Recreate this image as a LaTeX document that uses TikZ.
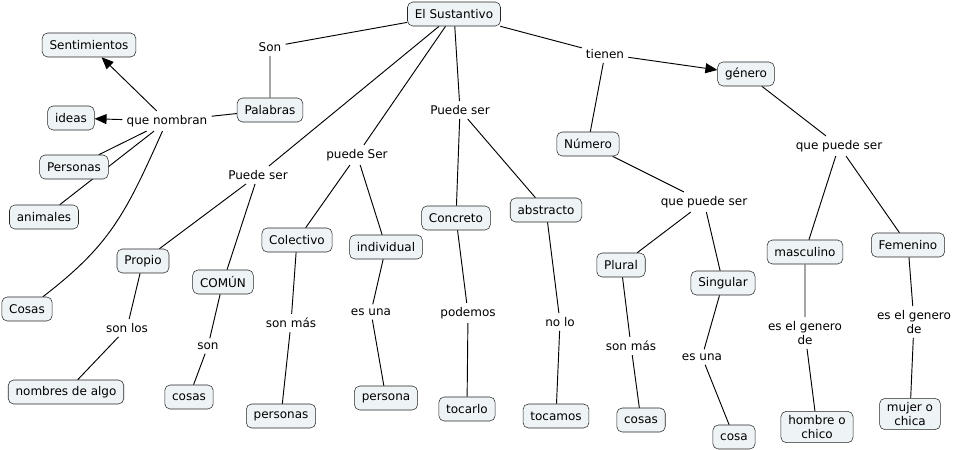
\documentclass[tikz,border=0pt]{standalone}
\usepackage{fontspec}
\setmainfont{DejaVu Sans}
\usetikzlibrary{arrows.meta}
\definecolor{boxfill}{HTML}{EEF3F6}
\pgfdeclarelayer{back}
\pgfsetlayers{back,main}

\begin{document}
\begin{tikzpicture}[x=0.75pt,y=-0.75pt,
  concept/.style={draw=black!85,fill=boxfill,rounded corners=4pt,inner xsep=5.5pt,
    inner ysep=3pt,minimum height=18pt,align=center,font=\fontsize{9}{10.5}\selectfont},
  link/.style={inner sep=3pt,align=center,font=\fontsize{9}{10.5}\selectfont},
  conn/.style={line width=0.7pt},
  arr/.style={conn,-{Triangle[length=9pt,width=7.5pt]}}]
  \useasboundingbox (0,0) rectangle (958,450);
  % concepts
  \node[concept] (es) at (454,14) {El Sustantivo};
  \node[concept] (sent) at (89,45) {Sentimientos};
  \node[concept] (pal) at (270,110) {Palabras};
  \node[concept] (ideas) at (71,118) {ideas};
  \node[concept] (pers) at (74,167) {Personas};
  \node[concept] (anim) at (44,217) {animales};
  \node[concept] (cosas1) at (27,309) {Cosas};
  \node[concept] (gen) at (746,74) {género};
  \node[concept] (num) at (588,144) {Número};
  \node[concept] (prop) at (143,261) {Propio};
  \node[concept] (comun) at (223,282) {COMÚN};
  \node[concept] (colec) at (297,240) {Colectivo};
  \node[concept] (indiv) at (386,247) {individual};
  \node[concept] (concr) at (456,218) {Concreto};
  \node[concept] (abst) at (546,210) {abstracto};
  \node[concept] (plur) at (621,265) {Plural};
  \node[concept] (sing) at (723,283) {Singular};
  \node[concept] (masc) at (805,252) {masculino};
  \node[concept] (fem) at (908,245) {Femenino};
  \node[concept] (algo) at (66,392) {nombres de algo};
  \node[concept] (cosas2) at (189,397) {cosas};
  \node[concept] (personas) at (281,416) {personas};
  \node[concept] (persona) at (386,398) {persona};
  \node[concept] (tocarlo) at (467,409) {tocarlo};
  \node[concept] (tocamos) at (556,416) {tocamos};
  \node[concept] (cosas3) at (641,420) {cosas};
  \node[concept] (cosa) at (734,437) {cosa};
  \node[concept] (hombre) at (817,427) {hombre o\\chico};
  \node[concept] (mujer) at (910,414) {mujer o\\chica};
  % linking phrases
  \node[link] (son) at (270,47) {Son};
  \node[link] (nombran) at (167,121) {que nombran};
  \node[link] (pser1) at (258,175) {Puede ser};
  \node[link] (pser2) at (357,155) {puede Ser};
  \node[link] (pser3) at (460,110) {Puede ser};
  \node[link] (tienen) at (605,54) {tienen};
  \node[link] (qps1) at (704,202) {que puede ser};
  \node[link] (qps2) at (839,146) {que puede ser};
  \node[link] (sonlos) at (127,328) {son los};
  \node[link] (sonc) at (208,346) {son};
  \node[link] (sonmas1) at (291,323) {son más};
  \node[link] (esuna1) at (371,312) {es una};
  \node[link] (podemos) at (468,313) {podemos};
  \node[link] (nolo) at (560,322) {no lo};
  \node[link] (sonmas2) at (631,346) {son más};
  \node[link] (esuna2) at (702,357) {es una};
  \node[link] (egd1) at (805,333) {es el genero\\de};
  \node[link] (egd2) at (914,322) {es el genero\\de};
  % connectors
  \begin{pgfonlayer}{back}
    \draw[conn] (es) -- (son) -- (pal) -- (nombran);
    \draw[arr] (nombran) -- (sent);
    \draw[arr] (nombran) -- (ideas);
    \draw[conn] (nombran) -- (pers);
    \draw[conn] (nombran) -- (anim);
    \draw[conn] (nombran) .. controls (125,215) and (110,245) .. (cosas1);
    \draw[conn] (es) -- (pser1) -- (prop);
    \draw[conn] (pser1) -- (comun);
    \draw[conn] (es) -- (pser2) -- (colec);
    \draw[conn] (pser2) -- (indiv);
    \draw[conn] (es) -- (pser3) -- (concr);
    \draw[conn] (pser3) -- (abst);
    \draw[conn] (es) -- (tienen) -- (num);
    \draw[arr] (tienen) -- (gen);
    \draw[conn] (num) -- (qps1) -- (plur);
    \draw[conn] (qps1) -- (sing);
    \draw[conn] (gen) -- (qps2) -- (masc);
    \draw[conn] (qps2) -- (fem);
    \draw[conn] (prop) -- (sonlos) -- (algo);
    \draw[conn] (comun) -- (sonc) -- (cosas2);
    \draw[conn] (colec) -- (sonmas1) -- (personas);
    \draw[conn] (indiv) -- (esuna1) -- (persona);
    \draw[conn] (concr) -- (podemos) -- (tocarlo);
    \draw[conn] (abst) -- (nolo) -- (tocamos);
    \draw[conn] (plur) -- (sonmas2) -- (cosas3);
    \draw[conn] (sing) -- (esuna2) -- (cosa);
    \draw[conn] (masc) -- (egd1) -- (hombre);
    \draw[conn] (fem) -- (egd2) -- (mujer);
  \end{pgfonlayer}
\end{tikzpicture}
\end{document}
